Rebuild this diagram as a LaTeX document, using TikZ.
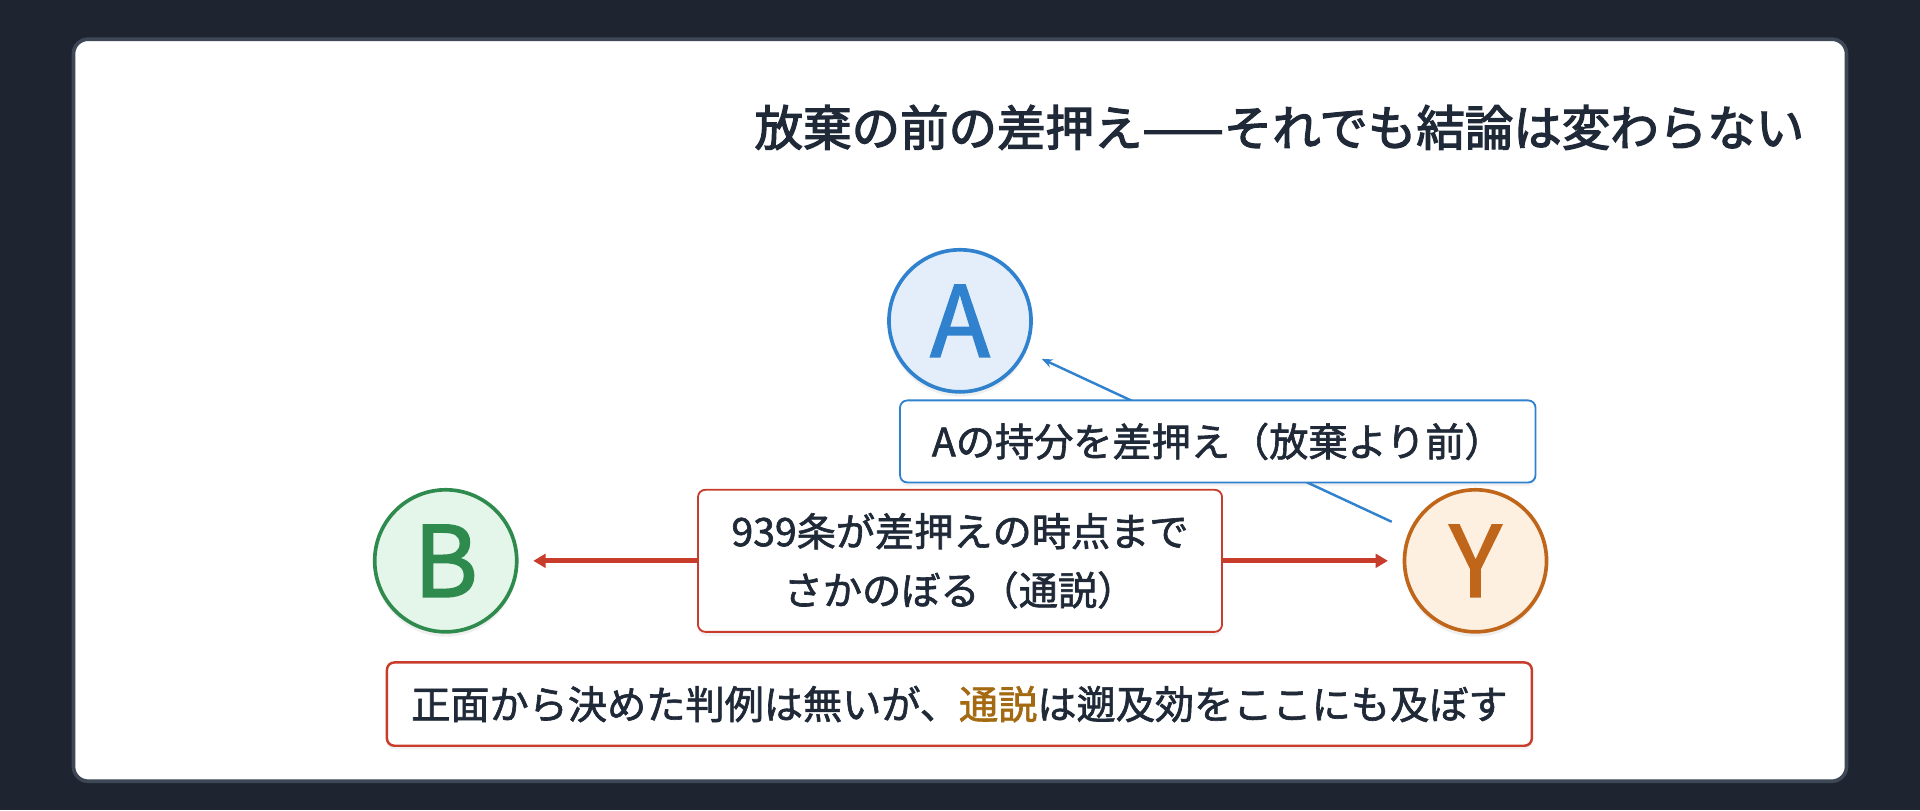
\documentclass[tikz,border=0pt]{standalone}
\usepackage{fontspec}
\setmainfont{Noto Sans CJK JP}
\newfontfamily\medfont[FakeBold=1.6]{Noto Sans CJK JP}
\newfontfamily\titlefont[FakeBold=2.6]{Noto Sans CJK JP}
\newfontfamily\letterfont[FakeBold=1.8]{Noto Sans CJK JP}
\usetikzlibrary{arrows.meta,shadows}
\definecolor{bgdark}{HTML}{1E2530}
\definecolor{panelborder}{HTML}{3D4756}
\definecolor{ink}{HTML}{1F2937}
\definecolor{cblue}{HTML}{3182CE}
\definecolor{fblue}{HTML}{E3EEFA}
\definecolor{cgreen}{HTML}{2F8A4E}
\definecolor{fgreen}{HTML}{E4F5E9}
\definecolor{corange}{HTML}{C0661A}
\definecolor{forange}{HTML}{FDF0E1}
\definecolor{cred}{HTML}{C83C2C}
\definecolor{cgold}{HTML}{A46A12}
\tikzset{
  x=1pt,y=1pt,
  party/.style={circle,minimum size=116pt,inner sep=0pt,line width=3pt,
    font=\letterfont\fontsize{80}{84}\selectfont,
    drop shadow={opacity=0.12,shadow xshift=0pt,shadow yshift=-4pt}},
  labelbox/.style={rectangle,rounded corners=6pt,fill=white,inner sep=0pt,
    text=ink,font=\medfont\fontsize{32}{48}\selectfont,align=center,
    drop shadow={opacity=0.10,shadow xshift=0pt,shadow yshift=-3pt}},
  bluearrow/.style={draw=cblue,line width=2pt,-{Stealth[length=9pt,width=7pt]}},
  redarrow/.style={draw=cred,line width=4pt,-{Triangle[length=10pt,width=11pt]}},
}
\begin{document}
\begin{tikzpicture}
\useasboundingbox (0,0) rectangle (1568,-661.5);
\fill[bgdark] (0,0) rectangle (1568,-661.5);
\node[draw=panelborder,fill=white,line width=3pt,rounded corners=12pt,
  minimum width=1448pt,minimum height=606pt,inner sep=0pt] (panel) at (784,-335) {};
\node[anchor=east,text=ink,font=\titlefont\fontsize{39.6}{48}\selectfont] (title) at (1477,-104)
  {放棄の前の差押え——それでも結論は変わらない};
% circles
\node[party,draw=cblue,fill=fblue,text=cblue] (A) at (784,-262) {A};
\node[party,draw=cgreen,fill=fgreen,text=cgreen] (B) at (364,-458) {B};
\node[party,draw=corange,fill=forange,text=corange] (Y) at (1205,-458) {Y};
% blue connector Y -> A (behind label)
\draw[bluearrow,shorten <=16pt,shorten >=14pt] (Y) -- (A);
\node[labelbox,draw=cblue,line width=1.5pt,minimum width=519pt,minimum height=67pt] (lab) at (994.5,-360.5)
  {Aの持分を差押え（放棄より前）};
% red connectors
\node[labelbox,draw=cred,line width=1.5pt,minimum width=428pt,minimum height=116pt] (mid) at (784,-458)
  {939条が差押えの時点まで\\さかのぼる（通説）};
\draw[redarrow,shorten >=12pt] (mid.west) -- (B);
\draw[redarrow,shorten >=12pt] (mid.east) -- (Y);
% bottom note
\node[labelbox,draw=cred,line width=2pt,minimum width=935pt,minimum height=68pt] (note) at (783.5,-575)
  {正面から決めた判例は無いが、\textcolor{cgold}{通説}は遡及効をここにも及ぼす};
\end{tikzpicture}
\end{document}
